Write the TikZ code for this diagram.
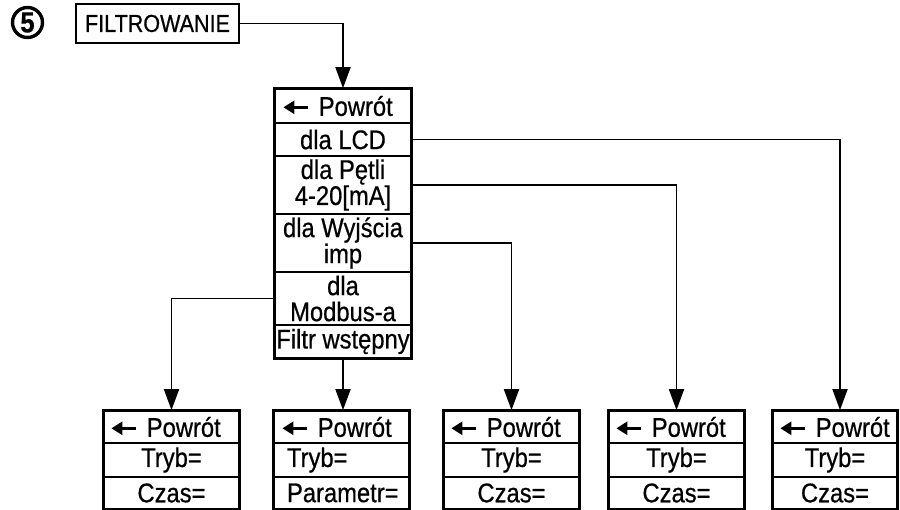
\documentclass[tikz,border=0pt]{standalone}
\usepackage{fontspec}
\setmainfont{Liberation Sans}[FakeStretch=0.88,FakeBold=0.6]
\usetikzlibrary{arrows.meta}
\newcommand\backarr{\tikz[baseline=0pt]{\draw[line width=2.8pt,-{Triangle[length=11pt,width=13pt]}] (25pt,8.5pt)--(0pt,8.5pt);}}
\newcommand\powrot{\mbox{\backarr\hspace{9pt}Powrót}}
\tikzset{
  cell/.style={draw, line width=1.7pt, inner sep=0pt, align=center, font=\fontsize{27}{26}\selectfont},
  backcell/.style={cell, inner xsep=7pt, text width=#1, align=left},
  leftcell/.style={cell, inner xsep=13pt, text width=#1, align=left},
  conn/.style={line width=1.8pt},
  arr/.style={conn, -{Triangle[length=21pt,width=15pt]}},
  outer/.style={draw, line width=2.3pt},
}
\begin{document}
\begin{tikzpicture}[x=1pt,y=-1pt]
\useasboundingbox (0,0) rectangle (900,510);
% header
\node[circle, draw, line width=3.4pt, minimum size=30pt, inner sep=0pt, font=\fontsize{29}{29}\selectfont\bfseries] (num) at (27.5,22.5) {5};
\node[cell, line width=1.9pt, minimum width=163pt, minimum height=39pt, font=\fontsize{24.5}{26}\selectfont] (filt) at (157.5,23.5) {FILTROWANIE};
% main menu
\node[backcell=122pt, minimum height=34pt] (m1) at (343,106) {\powrot};
\node[cell, minimum width=136pt, minimum height=33pt] (m2) at (343,139.5) {dla LCD};
\node[cell, minimum width=136pt, minimum height=58pt] (m3) at (343,185) {dla Pętli\\4-20[mA]};
\node[cell, minimum width=136pt, minimum height=58pt] (m4) at (343,243) {dla Wyjścia\\imp};
\node[cell, minimum width=136pt, minimum height=53pt] (m5) at (343,298.5) {dla\\Modbus-a};
\node[cell, minimum width=136pt, minimum height=33pt] (m6) at (343,341.5) {Filtr wstępny};
\draw[outer] (m1.north west) rectangle (m6.south east);
% bottom boxes
\foreach \n/\x/\w/\t/\c in {b1/171.5/135/Tryb=/Czas=, b3/511.5/135/Tryb=/Czas=, b4/676.5/135/Tryb=/Czas=, b5/835/124/Tryb=/Czas=}{
  \pgfmathsetmacro\tw{\w-12}
  \node[backcell=\tw pt, inner xsep=6pt, minimum height=32pt] (\n r1) at (\x,427) {\powrot};
  \node[cell, minimum width=\w pt, minimum height=34pt] (\n r2) at (\x,460) {\t};
  \node[cell, minimum width=\w pt, minimum height=32pt] (\n r3) at (\x,493) {\c};
  \draw[outer] (\n r1.north west) rectangle (\n r3.south east);
}
\node[backcell=121pt, minimum height=32pt] (b2r1) at (341.5,427) {\powrot};
\node[leftcell=109pt, minimum height=34pt] (b2r2) at (341.5,460) {Tryb=};
\node[leftcell=109pt, minimum height=32pt] (b2r3) at (341.5,493) {Parametr=};
\draw[outer] (b2r1.north west) rectangle (b2r3.south east);
% connectors
\draw[arr] (filt.east) -| (m1.north);
\draw[arr] (m2.east) -| ([xshift=5pt]b5r1.north);
\draw[arr] (m3.east) -| (b4r1.north);
\draw[arr] (m4.east) -| (b3r1.north);
\draw[arr] (m5.west) -| (b1r1.north);
\draw[arr] (m6.south) -- (m6.south |- b2r1.north);
\end{tikzpicture}
\end{document}
